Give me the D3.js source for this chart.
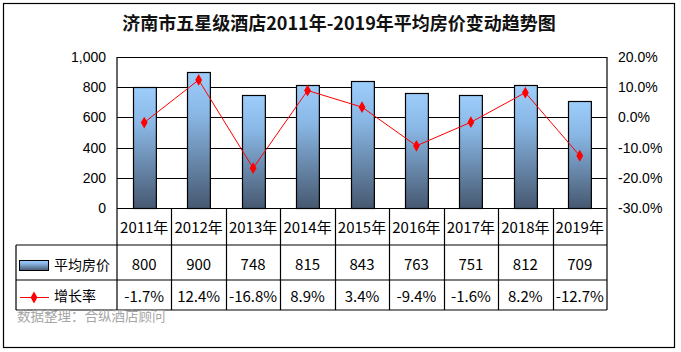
<!DOCTYPE html>
<html>
<head>
<meta charset="utf-8">
<script src="https://cdn.jsdelivr.net/npm/d3@7"></script>
<style>
  body { margin: 0; background: #fff; }
  svg { display: block; }
</style>
</head>
<body>
<div id="chart"></div>
<script>
// chart data
const years = ["2011年", "2012年", "2013年", "2014年", "2015年", "2016年", "2017年", "2018年", "2019年"];
const prices = [800, 900, 748, 815, 843, 763, 751, 812, 709];
const growth = [-1.7, 12.4, -16.8, 8.9, 3.4, -9.4, -1.6, 8.2, -12.7];
const leftTicks = [0, 200, 400, 600, 800, 1000];
const rightTicks = [-30, -20, -10, 0, 10, 20];
const seriesNames = ["平均房价", "增长率"];
const title = "济南市五星级酒店2011年-2019年平均房价变动趋势图";
const source = "数据整理：合纵酒店顾问";

const W = 681, H = 352;
const plot = {left: 117, right: 607, top: 57, bottom: 208};
const rows = {year: 245, r1: 280, r2: 310};
const tableLeft = 16;

const cjk = '"Noto Sans CJK SC", "Noto Sans", sans-serif';
const arial = '"Liberation Sans", Arial, sans-serif';

// percent with a plain hyphen as minus sign
const pct = d => d3.format(".1f")(d).replace("\u2212", "-") + "%";

const svg = d3.select("#chart").append("svg")
    .attr("width", W)
    .attr("height", H);

svg.append("rect").attr("width", W).attr("height", H).attr("fill", "#fff");

// outer frame
svg.append("rect")
    .attr("x", 3.5).attr("y", 3.5)
    .attr("width", 671).attr("height", 344)
    .attr("fill", "none")
    .attr("stroke", "#000")
    .attr("stroke-width", 1.2);

// gradient for the bars
const defs = svg.append("defs");
const grad = defs.append("linearGradient")
    .attr("id", "bar-grad")
    .attr("x1", "0%").attr("y1", "0%")
    .attr("x2", "0%").attr("y2", "100%");
grad.append("stop").attr("offset", "0%").attr("stop-color", "#9dcdfb");
grad.append("stop").attr("offset", "30%").attr("stop-color", "#8ab8e6");
grad.append("stop").attr("offset", "100%").attr("stop-color", "#465870");

// title
svg.append("text")
    .attr("x", 339).attr("y", 30)
    .attr("text-anchor", "middle")
    .style("font-family", cjk)
    .style("font-size", "18px")
    .style("font-weight", "bold")
    .attr("fill", "#111")
    .text(title);

// scales
const x = d3.scaleBand()
    .domain(years)
    .range([plot.left, plot.right])
    .padding(0);

const yLeft = d3.scaleLinear()
    .domain([0, 1000])
    .range([plot.bottom, plot.top]);

const yRight = d3.scaleLinear()
    .domain([-30, 20])
    .range([plot.bottom, plot.top]);

// gridlines
svg.append("g")
    .selectAll("line")
    .data(leftTicks)
    .join("line")
    .attr("x1", plot.left).attr("x2", plot.right)
    .attr("y1", d => Math.round(yLeft(d)) + 0.5)
    .attr("y2", d => Math.round(yLeft(d)) + 0.5)
    .attr("stroke", "#000");

// left axis
const leftAxis = svg.append("g")
    .attr("transform", `translate(${plot.left},0)`)
    .call(d3.axisLeft(yLeft).tickValues(leftTicks).tickFormat(d3.format(",")).tickSize(0).tickPadding(11));
leftAxis.select(".domain").remove();
leftAxis.selectAll("text")
    .style("font-family", arial)
    .style("font-size", "14px")
    .attr("fill", "#000");

// right axis
const rightAxis = svg.append("g")
    .attr("transform", `translate(${plot.right},0)`)
    .call(d3.axisRight(yRight).tickValues(rightTicks).tickFormat(pct).tickSize(0).tickPadding(11));
rightAxis.select(".domain").remove();
rightAxis.selectAll("text")
    .style("font-family", arial)
    .style("font-size", "14px")
    .attr("fill", "#000");

// bars
const barW = x.bandwidth() * 0.42;
svg.append("g")
    .selectAll("rect")
    .data(prices)
    .join("rect")
    .attr("x", (d, i) => Math.round(x(years[i]) + (x.bandwidth() - barW) / 2) + 0.5)
    .attr("y", d => Math.round(yLeft(d)) + 0.5)
    .attr("width", barW)
    .attr("height", d => Math.round(yLeft(0)) - Math.round(yLeft(d)))
    .attr("fill", "url(#bar-grad)")
    .attr("stroke", "#000")
    .attr("stroke-width", 1.2);

// growth line
const line = d3.line()
    .x((d, i) => x(years[i]) + x.bandwidth() / 2)
    .y(d => yRight(d));

svg.append("path")
    .datum(growth)
    .attr("d", line)
    .attr("fill", "none")
    .attr("stroke", "#ff0000")
    .attr("stroke-width", 1);

svg.append("g")
    .selectAll("path")
    .data(growth)
    .join("path")
    .attr("d", d3.symbol(d3.symbolDiamond, 40))
    .attr("transform", (d, i) => `translate(${x(years[i]) + x.bandwidth() / 2},${yRight(d)})`)
    .attr("fill", "#ff0000");

// table lines
const tbl = svg.append("g").attr("stroke", "#000").attr("stroke-width", 1.2);
[rows.year, rows.r1, rows.r2].forEach(y => {
    tbl.append("line")
        .attr("x1", tableLeft).attr("x2", plot.right)
        .attr("y1", y).attr("y2", y);
});
tbl.append("line")
    .attr("x1", tableLeft).attr("x2", tableLeft)
    .attr("y1", rows.year).attr("y2", rows.r2);

// plot frame verticals (through the table)
tbl.append("line")
    .attr("x1", plot.left).attr("x2", plot.left)
    .attr("y1", plot.top).attr("y2", rows.r2);
tbl.append("line")
    .attr("x1", plot.right).attr("x2", plot.right)
    .attr("y1", plot.top).attr("y2", rows.r2);

// category separators
tbl.selectAll(".sep")
    .data(years.slice(1))
    .join("line")
    .attr("class", "sep")
    .attr("x1", d => Math.round(x(d)) + 0.5).attr("x2", d => Math.round(x(d)) + 0.5)
    .attr("y1", plot.bottom).attr("y2", rows.r2);

// year labels
svg.append("g")
    .selectAll("text")
    .data(years)
    .join("text")
    .attr("x", d => x(d) + x.bandwidth() / 2)
    .attr("y", 226)
    .attr("text-anchor", "middle")
    .attr("dominant-baseline", "central")
    .style("font-family", cjk)
    .style("font-size", "15px")
    .attr("fill", "#000")
    .text(d => d);

// table values
svg.append("g")
    .selectAll("text")
    .data(prices)
    .join("text")
    .attr("x", (d, i) => x(years[i]) + x.bandwidth() / 2)
    .attr("y", 263)
    .attr("text-anchor", "middle")
    .attr("dominant-baseline", "central")
    .style("font-family", cjk)
    .style("font-size", "15px")
    .attr("fill", "#000")
    .text(d => d);

svg.append("g")
    .selectAll("text")
    .data(growth)
    .join("text")
    .attr("x", (d, i) => x(years[i]) + x.bandwidth() / 2)
    .attr("y", 295)
    .attr("text-anchor", "middle")
    .attr("dominant-baseline", "central")
    .style("font-family", cjk)
    .style("font-size", "15px")
    .attr("fill", "#000")
    .text(pct);

// legend keys
svg.append("rect")
    .attr("x", 19.5).attr("y", 260.5)
    .attr("width", 29).attr("height", 10)
    .attr("fill", "url(#bar-grad)")
    .attr("stroke", "#000")
    .attr("stroke-width", 1);

svg.append("line")
    .attr("x1", 20).attr("x2", 49)
    .attr("y1", 297.5).attr("y2", 297.5)
    .attr("stroke", "#ff0000");
svg.append("path")
    .attr("d", d3.symbol(d3.symbolDiamond, 40))
    .attr("transform", "translate(34,297.5)")
    .attr("fill", "#ff0000");

svg.append("g")
    .selectAll("text")
    .data(seriesNames)
    .join("text")
    .attr("x", 54)
    .attr("y", (d, i) => i === 0 ? 264 : 295)
    .attr("dominant-baseline", "central")
    .style("font-family", cjk)
    .style("font-size", "14px")
    .attr("fill", "#000")
    .text(d => d);

// source note
svg.append("text")
    .attr("x", 17)
    .attr("y", 315)
    .attr("dominant-baseline", "central")
    .style("font-family", cjk)
    .style("font-size", "13.5px")
    .attr("fill", "#a6a6a6")
    .text(source);
</script>
</body>
</html>
